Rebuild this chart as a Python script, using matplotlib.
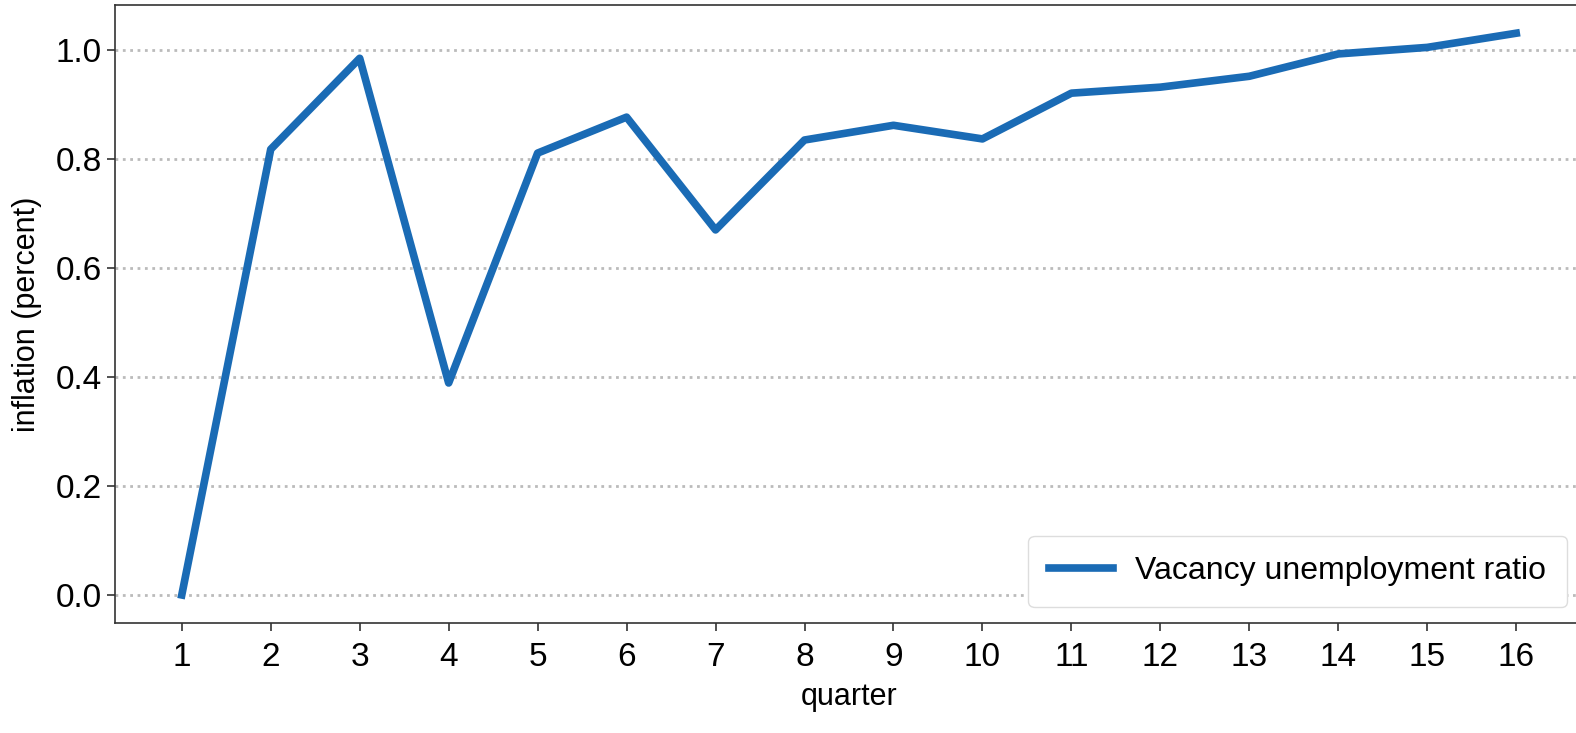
import matplotlib
matplotlib.use("Agg")
import matplotlib.pyplot as plt

# Datos
trimestres = list(range(1, 17))
ratio_vu = [0.0, 0.818, 0.985, 0.389, 0.811, 0.877, 0.670, 0.835,
            0.862, 0.837, 0.921, 0.932, 0.952, 0.993, 1.005, 1.031]

plt.rcParams["font.family"] = ["Liberation Sans", "DejaVu Sans"]

fig = plt.figure(figsize=(15.76, 7.33), dpi=100)
ax = fig.add_axes([0.073, 0.150, 0.9314, 0.843])

ax.plot(trimestres, ratio_vu, color="#1a6bb5", linewidth=5.5,
        label="Vacancy unemployment ratio")

ax.set_xticks(trimestres)
ax.set_yticks([0.0, 0.2, 0.4, 0.6, 0.8, 1.0])
ax.yaxis.grid(True, linestyle=":", color="#bbbbbb", linewidth=2)
ax.set_axisbelow(True)

ax.tick_params(axis="both", labelsize=24, length=6, width=1.2, color="#333333")
ax.tick_params(axis="x", pad=8)
for s in ax.spines.values():
    s.set_linewidth(1.2)
    s.set_color("#333333")

ax.set_xlabel("quarter", fontsize=22, labelpad=6)
ax.set_ylabel("inflation (percent)", fontsize=22, labelpad=10)

ax.legend(loc="lower right", fontsize=23, handlelength=2.0,
          borderpad=0.65, handletextpad=0.7,
          framealpha=1, edgecolor="#dddddd")

fig.savefig("out.png", dpi=100)
